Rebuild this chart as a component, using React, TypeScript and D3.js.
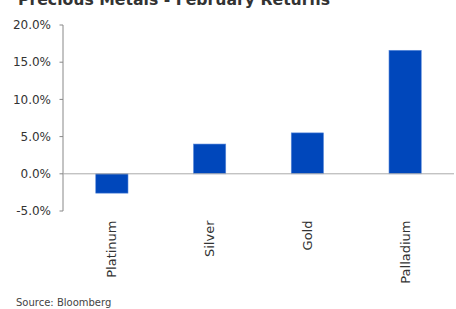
import React from "react";
import * as d3 from "d3";

const categories = ["Platinum", "Silver", "Gold", "Palladium"];
const values = [-2.6, 4.0, 5.5, 16.6];
const yTicks = [-5, 0, 5, 10, 15, 20];
const title = "Precious Metals - February Returns";
const source = "Source: Bloomberg";

const W = 456;
const H = 309;
const font = "'DejaVu Sans', sans-serif";

export default function App() {
  const x = d3.scaleBand<string>().domain(categories).range([63, 454]).paddingInner(0.67).paddingOuter(0.335);
  const y = d3.scaleLinear().domain([-5, 20]).range([211, 25]);
  const fmt = (v: number) => v.toFixed(1) + "%";
  return (
    <div style={{ position: "absolute", left: 0, top: 0 }}>
      <svg width={W} height={H} style={{ display: "block", background: "#fff" }}>
        <text x={18} y={5} fontFamily={font} fontWeight="bold" fontSize={15.5} fill="#333" textLength={312} lengthAdjust="spacingAndGlyphs">
          {title}
        </text>
        {categories.map((c, i) => {
          const v = values[i];
          const y0 = y(Math.max(0, v));
          const y1 = y(Math.min(0, v));
          return (
            <rect key={c} x={x(c)} y={y0} width={x.bandwidth()} height={y1 - y0} fill="#0047BB" stroke="#5C8BDB" strokeWidth={0.6} />
          );
        })}
        <line x1={63} x2={63} y1={y(20)} y2={y(-5)} stroke="#888" strokeWidth={1} />
        <line x1={63} x2={454} y1={y(0)} y2={y(0)} stroke="#aaa" strokeWidth={1} />
        {yTicks.map((t) => (
          <g key={t}>
            <line x1={59.5} x2={63} y1={y(t)} y2={y(t)} stroke="#888" strokeWidth={1} />
            <text x={51} y={y(t)} dy="0.35em" textAnchor="end" fontFamily={font} fontSize={12} fill="#333">
              {fmt(t)}
            </text>
          </g>
        ))}
        {categories.map((c) => {
          const cx = (x(c) as number) + x.bandwidth() / 2;
          return (
            <text key={c} transform={`translate(${cx + 4.5},220.5) rotate(-90)`} textAnchor="end" fontFamily={font} fontSize={13} fill="#333">
              {c}
            </text>
          );
        })}
        <text x={16} y={306} fontFamily={font} fontSize={10} fill="#444">
          {source}
        </text>
      </svg>
    </div>
  );
}
